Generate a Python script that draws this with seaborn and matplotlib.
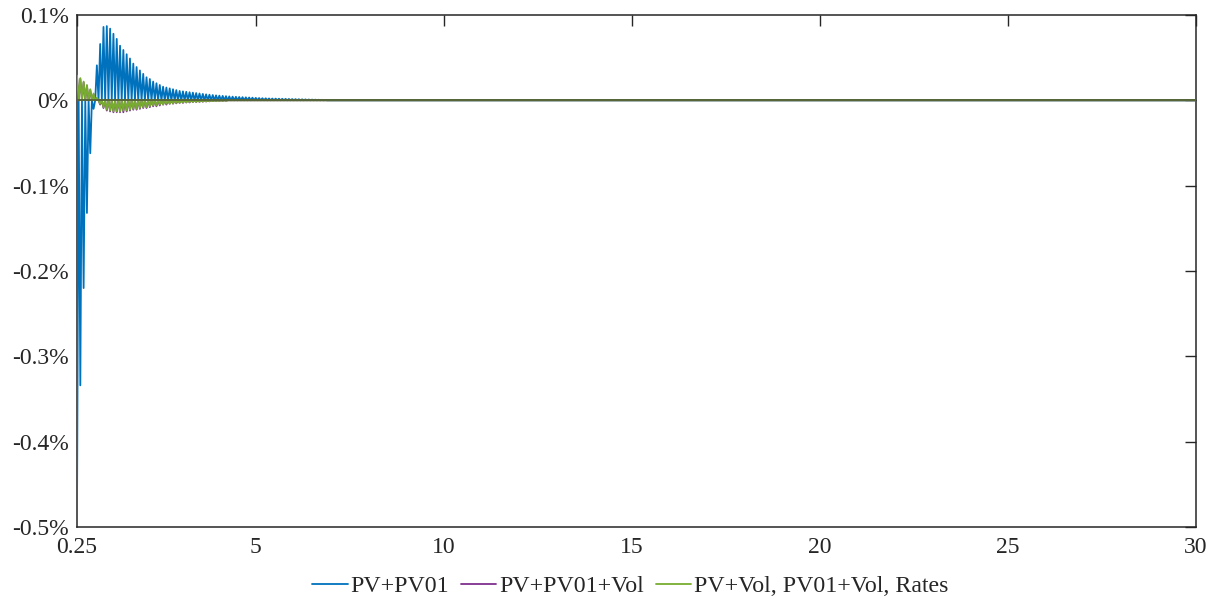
import numpy as np
import pandas as pd
import matplotlib
matplotlib.use('Agg')
import matplotlib.pyplot as plt
import seaborn as sns
from matplotlib.ticker import FuncFormatter

# eixo x: maturidade (anos), pontos a cada meio ciclo da oscilacao
x_start, x_end, n_pts = 0.25, 30.0, 677

# picos de cada ciclo (em %); os pontos intermediarios ficam em ~0
blue_peak = [-0.487, -0.334, -0.22, -0.132, -0.062, -0.01,
             0.041, 0.066, 0.086, 0.087, 0.084, 0.078, 0.072, 0.064, 0.059, 0.054,
             0.049, 0.043, 0.039, 0.035, 0.031, 0.027, 0.025, 0.022, 0.020, 0.018,
             0.016, 0.015, 0.014, 0.013, 0.012, 0.011, 0.0105, 0.010, 0.0095, 0.009,
             0.0085, 0.008, 0.0075, 0.007, 0.0066, 0.0062, 0.0058, 0.0055, 0.0052,
             0.0049, 0.0046, 0.0043, 0.0041, 0.0039, 0.0037, 0.0035, 0.0033, 0.0031,
             0.0029, 0.0027, 0.0025, 0.0024, 0.0022, 0.0021, 0.002, 0.0019, 0.0018,
             0.0017, 0.0016, 0.0015, 0.0014, 0.0013, 0.0012, 0.0011, 0.001, 0.0009,
             0.0008, 0.0007, 0.0006, 0.0005]
purple_peak = [0.028, 0.025, 0.021, 0.017, 0.012, 0.007, 0.002, -0.005, -0.009,
               -0.012, -0.013, -0.014, -0.014, -0.014, -0.014, -0.013, -0.012,
               -0.011, -0.011, -0.010, -0.009, -0.009, -0.008, -0.007, -0.007,
               -0.006, -0.005, -0.005, -0.004, -0.004, -0.0035, -0.003, -0.003,
               -0.0025, -0.0025, -0.002, -0.002, -0.0018, -0.0016, -0.0014,
               -0.0012, -0.001, -0.0009, -0.0008, -0.0007, -0.0006]
green_peak = [0.029, 0.026, 0.022, 0.018, 0.013, 0.008, 0.003, -0.004, -0.008,
              -0.011, -0.012, -0.013, -0.013, -0.013, -0.012, -0.012, -0.011,
              -0.010, -0.010, -0.009, -0.008, -0.008, -0.007, -0.006, -0.006,
              -0.005, -0.005, -0.004, -0.004, -0.0035, -0.003, -0.003, -0.0025,
              -0.0025, -0.002, -0.002, -0.0018, -0.0016, -0.0014, -0.0012, -0.001,
              -0.0009, -0.0008, -0.0007, -0.0006, -0.0005]

labels = ['PV+PV01', 'PV+PV01+Vol', 'PV+Vol, PV01+Vol, Rates']
cores = ['#0072BD', '#7E2F8E', '#77AC30']
x_ticks = [0.25, 5, 10, 15, 20, 25, 30]
y_ticks = [-0.5, -0.4, -0.3, -0.2, -0.1, 0, 0.1]

x = np.linspace(x_start, x_end, n_pts)


def monta_serie(picos):
    v = np.zeros(n_pts)
    v[0:2 * len(picos):2] = picos
    return v


sns.set_style('white')
plt.rcParams['font.family'] = ['Liberation Serif', 'DejaVu Serif']
plt.rcParams['axes.unicode_minus'] = False

fig = plt.figure(figsize=(12.16, 6), dpi=100)
ax = fig.add_axes([77 / 1216, 1 - 527 / 600, (1196 - 77) / 1216, (527 - 15) / 600])

for picos, lab, cor in zip([blue_peak, purple_peak, green_peak], labels, cores):
    df = pd.DataFrame({'x': x, 'y': monta_serie(picos)})
    sns.lineplot(data=df, x='x', y='y', ax=ax, color=cor, linewidth=1.3,
                 label=lab, estimator=None, sort=False, zorder=3)

ax.axhline(0, color='#56653a', linewidth=1.4, zorder=4)

ax.set_xlim(x_start, x_end)
ax.set_ylim(-0.5, 0.1)
ax.set_xticks(x_ticks)
ax.set_xticklabels(['0.25', '5', '10', '15', '20', '25', '30'])
ax.set_yticks(y_ticks)
ax.yaxis.set_major_formatter(FuncFormatter(lambda v, p: f'{v:g}%'))
ax.set_xlabel('')
ax.set_ylabel('')

for s in ax.spines.values():
    s.set_color('#262626')
    s.set_linewidth(1.1)
    s.set_zorder(2)
ax.tick_params(axis='both', direction='in', length=8, width=1.0, color='#262626',
               labelsize=17, labelcolor='#262626', top=True, right=True)
ax.tick_params(axis='x', pad=7)
ax.tick_params(axis='y', pad=6)

h, l = ax.get_legend_handles_labels()
ax.get_legend().remove()
fig.legend(h, l, loc='center', bbox_to_anchor=(630 / 1216, 1 - 586 / 600), ncol=3,
           frameon=False, fontsize=17.2, handlelength=1.5, handletextpad=0.1,
           columnspacing=0.5, labelcolor='#262626')

fig.savefig('out.png', dpi=100)
